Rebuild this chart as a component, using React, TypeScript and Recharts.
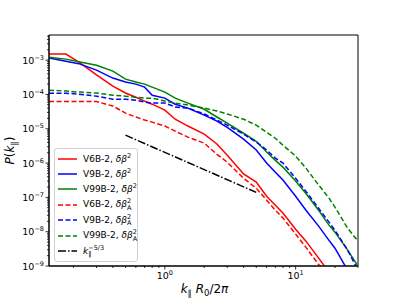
import React from 'react';
import { LineChart, Line, XAxis, YAxis, ReferenceArea } from 'recharts';

// k_par R0 / 2pi sample points shared by all spectra
const kValues = [0.13, 0.175, 0.22, 0.3, 0.4, 0.5, 0.6, 0.7, 0.8, 1.0, 1.2, 1.5, 2, 2.5, 3, 4, 5, 6, 7, 8, 10, 12, 15, 18, 20, 25, 30];

const v6Beta = [1.5e-3, 1.5e-3, 8.7e-4, 3.7e-4, 1.75e-4, 1.1e-4, 8.3e-5, 6.4e-5, 5.2e-5, 3.5e-5, 1.9e-5, 1.2e-5, 7e-6, 3.6e-6, 1.7e-6, 4.8e-7, 2.8e-7, 1.08e-7, 5.9e-8, 3.5e-8, 1.18e-8, 5.3e-9, 1.7e-9, 6.6e-10, null, null, null];
const v9Beta = [1.15e-3, 9.3e-4, 7.9e-4, 5.1e-4, 3e-4, 2.3e-4, 2e-4, 1.63e-4, 9.5e-5, 7.8e-5, 5.2e-5, 4e-5, 2.5e-5, 1.67e-5, 1.1e-5, 5e-6, 2.4e-6, 1e-6, 5.4e-7, 3.2e-7, 1.08e-7, 4.2e-8, 1.45e-8, 5.6e-9, 3.3e-9, 7.5e-10, null];
const v99Beta = [1.22e-3, 1.07e-3, 9e-4, 7.1e-4, 4.8e-4, 2.8e-4, 2.3e-4, 2e-4, 1.63e-4, 1.17e-4, 7.8e-5, 5.6e-5, 3.7e-5, 2.2e-5, 1.46e-5, 7.4e-6, 4.3e-6, 2.1e-6, 1.2e-6, 7.6e-7, 3e-7, 1.3e-7, 4.2e-8, 1.55e-8, 9.7e-9, 2.9e-9, 1e-9];
const v6BetaA = [6.2e-5, 6.2e-5, 6.2e-5, 6.2e-5, 4.6e-5, 2.85e-5, 2.2e-5, 1.8e-5, 1.56e-5, 1.2e-5, 8.5e-6, 5.7e-6, 3.8e-6, 1.8e-6, 1.06e-6, 3.6e-7, 1.85e-7, 8.3e-8, 4.2e-8, 2.5e-8, 8.5e-9, 3.5e-9, 1.1e-9, 6e-10, null, null, null];
const v9BetaA = [1.09e-4, 1.09e-4, 1.02e-4, 8.9e-5, 7.3e-5, 7.3e-5, 6.8e-5, 6e-5, 5.6e-5, 5.6e-5, 4.3e-5, 4e-5, 2.7e-5, 1.8e-5, 1.27e-5, 7e-6, 4.1e-6, 2.4e-6, 1.4e-6, 1e-6, 3.6e-7, 1.5e-7, 4.8e-8, 1.9e-8, 1.1e-8, 2.9e-9, 7.5e-10];
const v99BetaA = [1.33e-4, 1.25e-4, 1.17e-4, 1.1e-4, 9.5e-5, 8.9e-5, 8.3e-5, 7.8e-5, 7.8e-5, 6.4e-5, 5.6e-5, 4.9e-5, 4e-5, 3.3e-5, 2.7e-5, 1.9e-5, 1.27e-5, 7.9e-6, 5.3e-6, 3.3e-6, 1.6e-6, 7.1e-7, 2.3e-7, 9.5e-8, 5.2e-8, 1.26e-8, 5.3e-9];
// k^-5/3 guide, only at its two end points
const slopeK = [0.5, 5];
const slopeP = [6.5e-6, 1.4e-7];

const xMajor = [1, 10];
const yMajor = [1e-9, 1e-8, 1e-7, 1e-6, 1e-5, 1e-4, 1e-3];
const minorSteps = [2, 3, 4, 5, 6, 7, 8, 9];

const X_DOMAIN = [0.13, 30];
const Y_DOMAIN = [1e-9, 5.4e-3];

const font = '"DejaVu Sans", sans-serif';

const data = kValues.map((k, i) => {
  const s = slopeK.indexOf(k);
  return {
    k,
    v6b: v6Beta[i],
    v9b: v9Beta[i],
    v99b: v99Beta[i],
    v6a: v6BetaA[i],
    v9a: v9BetaA[i],
    v99a: v99BetaA[i],
    slope: s >= 0 ? slopeP[s] : null,
  };
});

const withMinor = (majors: number[], lo: number, hi: number) => {
  const out: number[] = [];
  [majors[0] / 10, ...majors].forEach((m) => {
    out.push(m);
    minorSteps.forEach((s) => out.push(m * s));
  });
  return out.filter((v) => v >= lo * 0.999 && v <= hi * 1.001).sort((a, b) => a - b);
};

const xTicks = withMinor(xMajor, X_DOMAIN[0], X_DOMAIN[1]);
const yTicks = withMinor(yMajor, Y_DOMAIN[0], Y_DOMAIN[1]);

const exponent = (v: number) => Math.round(Math.log10(v));
const isMajor = (v: number) => Math.abs(Math.log10(v) - exponent(v)) < 1e-6;
const expText = (v: number) => String(exponent(v)).replace('-', '\u2212');

const XTick = ({ x, y, payload }: any) => {
  const v = payload.value;
  const major = isMajor(v);
  return (
    <g>
      <line x1={x} x2={x} y1={y} y2={y + (major ? 3.5 : 2)} stroke="#000" strokeWidth={0.8} />
      {major && (
        <text x={x} y={y + 13} textAnchor="middle" fontFamily={font} fontSize={9.5} fill="#000">
          10<tspan dy={-4} fontSize={6.5}>{expText(v)}</tspan>
        </text>
      )}
    </g>
  );
};

const YTick = ({ x, y, payload }: any) => {
  const v = payload.value;
  const major = isMajor(v);
  return (
    <g>
      <line x1={x} x2={x - (major ? 3.5 : 2)} y1={y} y2={y} stroke="#000" strokeWidth={0.8} />
      {major && (
        <text x={x - 5} y={y + 3.5} textAnchor="end" fontFamily={font} fontSize={9.5} fill="#000">
          10<tspan dy={-4} fontSize={6.5}>{expText(v)}</tspan>
        </text>
      )}
    </g>
  );
};

const Scripts = ({ sup, sub }: { sup: string; sub?: string }) =>
  sub ? (
    <span style={{ display: 'inline-block', verticalAlign: 'middle', fontSize: 6.5, lineHeight: '6.5px', fontStyle: 'normal' }}>
      <span style={{ display: 'block' }}>{sup}</span>
      <span style={{ display: 'block' }}>{sub}</span>
    </span>
  ) : (
    <span style={{ fontSize: 6.5, position: 'relative', top: -4, fontStyle: 'normal' }}>{sup}</span>
  );

const legendItems = [
  { run: 'V6B-2', color: '#ff0000', dash: undefined, alfven: false },
  { run: 'V9B-2', color: '#0000ff', dash: undefined, alfven: false },
  { run: 'V99B-2', color: '#008000', dash: undefined, alfven: false },
  { run: 'V6B-2', color: '#ff0000', dash: '5 2.5', alfven: true },
  { run: 'V9B-2', color: '#0000ff', dash: '5 2.5', alfven: true },
  { run: 'V99B-2', color: '#008000', dash: '5 2.5', alfven: true },
];

const LegendBox = () => (
  <div
    style={{
      position: 'absolute',
      left: 54,
      top: 148,
      width: 84,
      height: 114,
      boxSizing: 'border-box',
      border: '1px solid #d0d0d0',
      borderRadius: 3,
      background: 'rgba(255,255,255,0.8)',
      paddingTop: 2,
      fontFamily: font,
      fontSize: 9,
      color: '#000',
    }}
  >
    {legendItems.map((it, i) => (
      <div key={i} style={{ height: 15.4, display: 'flex', alignItems: 'center', whiteSpace: 'nowrap' }}>
        <svg width={28} height={6} style={{ flex: 'none' }}>
          <line x1={3} x2={22} y1={3} y2={3} stroke={it.color} strokeWidth={1.5} strokeDasharray={it.dash} />
        </svg>
        <span>
          {it.run}, <i>δβ</i>
          <Scripts sup="2" sub={it.alfven ? 'A' : undefined} />
        </span>
      </div>
    ))}
    <div style={{ height: 15.4, display: 'flex', alignItems: 'center', whiteSpace: 'nowrap' }}>
      <svg width={28} height={6} style={{ flex: 'none' }}>
        <line x1={3} x2={22} y1={3} y2={3} stroke="#000" strokeWidth={1.5} strokeDasharray="8 2 1.5 2" />
      </svg>
      <span>
        <i>k</i>
        <Scripts sup={'\u22125/3'} sub="∥" />
      </span>
    </div>
  </div>
);

const XLabel = ({ viewBox }: any) => (
  <text x={viewBox.x + viewBox.width / 2 + 1} y={viewBox.y + 27} textAnchor="middle" fontFamily={font} fontSize={12} fill="#000">
    <tspan fontStyle="italic">k</tspan>
    <tspan fontSize={8.5} dy={3}>∥</tspan>
    <tspan dy={-3} fontStyle="italic"> R</tspan>
    <tspan fontSize={8.5} dy={3}>0</tspan>
    <tspan dy={-3}>/2</tspan>
    <tspan fontStyle="italic">π</tspan>
  </text>
);

const YLabel = ({ viewBox }: any) => {
  const cx = 14;
  const cy = viewBox.y + viewBox.height / 2;
  return (
    <text x={cx} y={cy} transform={`rotate(-90 ${cx} ${cy})`} textAnchor="middle" fontFamily={font} fontSize={12} fill="#000">
      <tspan fontStyle="italic">P</tspan>
      <tspan>(</tspan>
      <tspan fontStyle="italic">k</tspan>
      <tspan fontSize={8.5} dy={3}>∥</tspan>
      <tspan dy={-3}>)</tspan>
    </text>
  );
};

const series = [
  { key: 'v6b', color: '#ff0000', dash: undefined },
  { key: 'v9b', color: '#0000ff', dash: undefined },
  { key: 'v99b', color: '#008000', dash: undefined },
  { key: 'v6a', color: '#ff0000', dash: '5 2.5' },
  { key: 'v9a', color: '#0000ff', dash: '5 2.5' },
  { key: 'v99a', color: '#008000', dash: '5 2.5' },
];

export default function App() {
  return (
    <div style={{ position: 'absolute', left: 0, top: 0, width: 399, height: 299, background: '#fff' }}>
      <LineChart width={399} height={299} data={data} margin={{ top: 35, right: 41, bottom: 0, left: 0 }}>
        <XAxis
          dataKey="k"
          type="number"
          scale="log"
          domain={X_DOMAIN}
          allowDataOverflow
          ticks={xTicks}
          interval={0}
          tickSize={0}
          tickMargin={0}
          tickLine={false}
          tick={<XTick />}
          height={33}
          axisLine={{ stroke: '#000', strokeWidth: 1 }}
          label={<XLabel />}
        />
        <YAxis
          type="number"
          scale="log"
          domain={Y_DOMAIN}
          allowDataOverflow
          ticks={yTicks}
          interval={0}
          tickSize={0}
          tickMargin={0}
          tickLine={false}
          tick={<YTick />}
          width={49}
          axisLine={{ stroke: '#000', strokeWidth: 1 }}
          label={<YLabel />}
        />
        <ReferenceArea
          x1={X_DOMAIN[0]}
          x2={X_DOMAIN[1]}
          y1={Y_DOMAIN[0]}
          y2={Y_DOMAIN[1]}
          fill="none"
          stroke="#000"
          strokeWidth={1}
          ifOverflow="visible"
        />
        {series.map((s) => (
          <Line
            key={s.key}
            dataKey={s.key}
            stroke={s.color}
            strokeWidth={1.5}
            strokeDasharray={s.dash}
            dot={false}
            isAnimationActive={false}
            connectNulls={false}
          />
        ))}
        <Line dataKey="slope" stroke="#000" strokeWidth={1.5} strokeDasharray="8 2 1.5 2" dot={false} connectNulls isAnimationActive={false} />
      </LineChart>
      <LegendBox />
    </div>
  );
}
